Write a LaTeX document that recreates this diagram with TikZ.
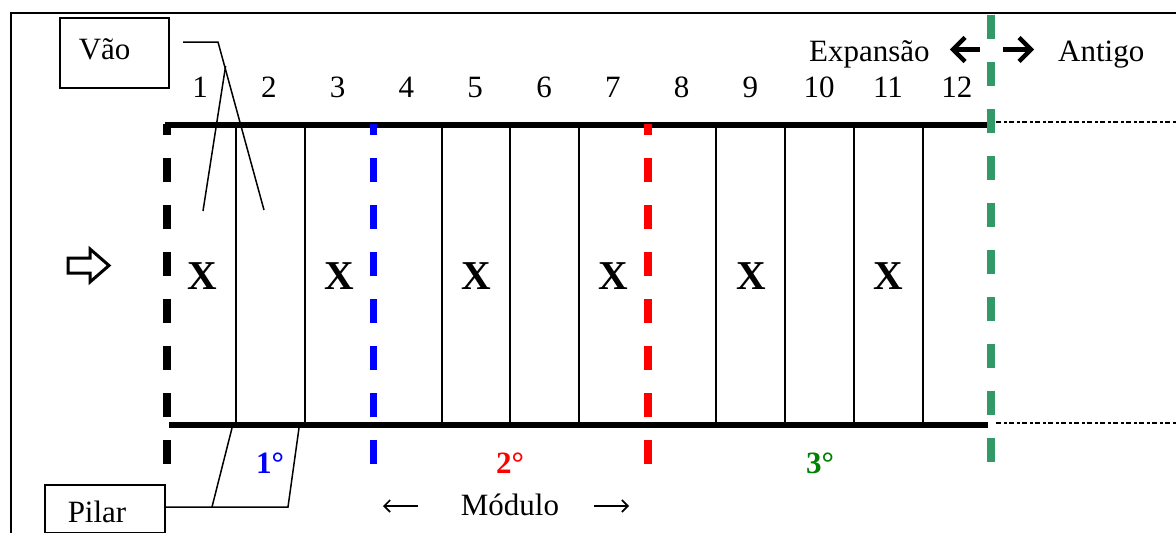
\documentclass[tikz,border=0pt]{standalone}
\usepackage{fontspec}
\setmainfont{Liberation Serif}
\usetikzlibrary{arrows.meta}
\definecolor{modgreen}{RGB}{51,153,102}
\definecolor{txtgreen}{RGB}{0,128,0}
\tikzset{
  txt/.style={font=\fontsize{31}{37}\selectfont, inner sep=0pt},
  bigx/.style={font=\fontsize{41}{48}\selectfont\bfseries, inner sep=0pt, anchor=base},
  num/.style={txt, anchor=base},
  deg/.style={font=\fontsize{31}{37}\selectfont\bfseries, inner sep=0pt, anchor=base},
  callbox/.style={draw, line width=1.5pt, txt, align=left, inner ysep=0pt},
  leader/.style={line width=1.5pt},
  thick rail/.style={line width=6pt},
  pillar/.style={line width=2pt},
  module/.style={line width=7.5pt, dash pattern=on 24pt off 23pt},
  old/.style={line width=2pt, dash pattern=on 5pt off 3pt on 2.5pt off 2.5pt},
  boldarrow/.style={line width=4.5pt, line join=miter, line cap=butt},
  thinarrow/.style={line width=1.6pt, -{Straight Barb[length=6pt,width=12pt,line width=1.6pt]}}
}
\begin{document}
\begin{tikzpicture}[x=1pt,y=-1pt]
\useasboundingbox (0,0) rectangle (1176,533);
% outer frame (left and top edges)
\coordinate (fbl) at (11,540);
\coordinate (ftl) at (11,13);
\coordinate (ftr) at (1180,13);
\draw[line width=1.5pt] (fbl) -- (ftl) -- (ftr);

% rails
\coordinate (tl) at (165,124.5);
\coordinate (tr) at (988,124.5);
\coordinate (bl) at (169,425);
\coordinate (br) at (988,425);
\draw[thick rail] (tl) -- (tr);
\draw[thick rail] (bl) -- (br);

% pillars
\foreach \x [count=\i] in {236,305,442,510,579,716,785,854,923}{
  \coordinate (pt\i) at (\x,124.5);
  \coordinate (pb\i) at (\x,425);
  \draw[pillar] (pt\i) -- (pb\i);
}

% module boundaries
\coordinate (k1) at (167,124); \coordinate (k2) at (167,466);
\coordinate (b1) at (373.5,124); \coordinate (b2) at (373.5,466);
\coordinate (r1) at (648,124); \coordinate (r2) at (648,466);
\coordinate (g1) at (991,15); \coordinate (g2) at (991,466);
\draw[module, dash phase=13pt, black] (k1) -- (k2);
\draw[module, dash phase=13pt, blue] (b1) -- (b2);
\draw[module, dash phase=13pt, red] (r1) -- (r2);
\draw[module, modgreen] (g1) -- (g2);

% old structure
\coordinate (o1) at (996,122); \coordinate (o2) at (1180,122);
\coordinate (o3) at (996,423); \coordinate (o4) at (1180,423);
\draw[old] (o1) -- (o2);
\draw[old] (o3) -- (o4);

% span numbers
\foreach \n in {1,...,12}{
  \node[num] (n\n) at ({200+68.8*(\n-1)},97) {\n};
}

% X marks
\foreach \k in {0,...,5}{
  \node[bigx] (x\k) at ({202+137.2*\k},289) {X};
}

% entry arrow
\draw[line width=3pt, line join=miter] (68,258) -- (90,258) -- (90,249) -- (109,265.5) -- (90,282) -- (90,273) -- (68,273) -- cycle;

% Vão box and leader
\node[callbox, anchor=north west, inner xsep=19pt, text width=71pt, minimum height=70pt, text height=14pt, text depth=0pt] (vao) at (59,17) {Vão};
\coordinate (v0) at (183,42);
\coordinate (v1) at (218,42);
\coordinate (v2) at (264,210);
\coordinate (v3) at (225.6,66);
\coordinate (v4) at (203,211);
\draw[leader] (v0) -- (v1) -- (v2);
\draw[leader] (v3) -- (v4);

% Pilar box and leader
\node[callbox, anchor=north west, inner xsep=23pt, text width=74pt, minimum height=48pt, text height=28pt, text depth=0pt] (pilar) at (44,484) {Pilar};
\coordinate (p0) at (212,507);
\coordinate (p1) at (288,507);
\coordinate (p2) at (299,428);
\coordinate (p3) at (232,428);
\draw[leader] (pilar.east |- p0) -- (p1) -- (p2);
\draw[leader] (p0) -- (p3);

% module ordinals
\node[deg, text=blue] (m1) at (270,473) {1°};
\node[deg, text=red] (m2) at (510,473) {2°};
\node[deg, text=txtgreen] (m3) at (820,473) {3°};

% Módulo label
\node[num] (mod) at (510,515) {Módulo};
\coordinate (la0) at (418,506); \coordinate (la9) at (383,506);
\coordinate (ra0) at (594,506); \coordinate (ra9) at (629,506);
\draw[thinarrow] (la0) -- (la9);
\draw[thinarrow] (ra0) -- (ra9);

% Expansão / Antigo
\node[txt, anchor=base west] (exp) at (809,61) {Expansão};
\node[txt, anchor=base west] (ant) at (1058,61) {Antigo};
\coordinate (la1) at (980,49.5); \coordinate (la2) at (955,49.5);
\coordinate (lh1) at (965,37.5); \coordinate (lh2) at (953,49.5); \coordinate (lh3) at (965,61.5);
\draw[boldarrow] (la1) -- (la2);
\draw[boldarrow] (lh1) -- (lh2) -- (lh3);
\coordinate (ra1) at (1003,49.5); \coordinate (ra2) at (1028,49.5);
\coordinate (rh1) at (1019,37.5); \coordinate (rh2) at (1031,49.5); \coordinate (rh3) at (1019,61.5);
\draw[boldarrow] (ra1) -- (ra2);
\draw[boldarrow] (rh1) -- (rh2) -- (rh3);
\end{tikzpicture}
\end{document}
